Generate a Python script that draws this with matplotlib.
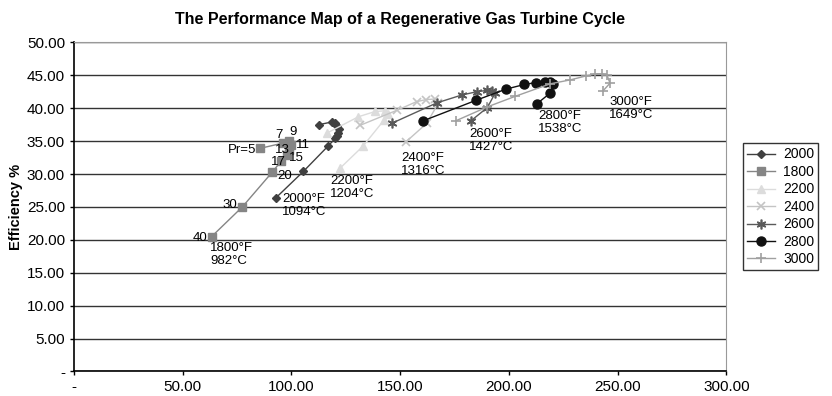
import matplotlib
matplotlib.use("Agg")
import matplotlib.pyplot as plt

plt.rcParams['font.family'] = ['Liberation Sans', 'DejaVu Sans']

# specific work (x) vs efficiency % (y), one list per turbine inlet temp
w1800 = [85.6, 96.1, 98.9, 99.8, 98.9, 98.0, 95.1, 91.2, 77.4, 63.3]
e1800 = [33.9, 34.7, 35.0, 34.4, 33.7, 32.9, 31.9, 30.3, 25.0, 20.5]

w2000 = [112.7, 118.5, 120.1, 121.1, 121.8, 121.6, 120.8, 120.1, 116.7, 105.5, 92.9]
e2000 = [37.5, 37.9, 37.7, 37.3, 36.8, 36.3, 35.8, 35.4, 34.2, 30.4, 26.4]

w2200 = [116.2, 130.8, 138.5, 143.0, 144.4, 142.6, 132.8, 122.4]
e2200 = [36.2, 38.7, 39.5, 39.6, 39.1, 38.2, 34.2, 30.9]

w2400 = [131.6, 148.6, 157.6, 161.9, 166.1, 167.6, 162.2, 152.7]
e2400 = [37.4, 39.7, 41.0, 41.3, 41.4, 40.8, 37.7, 34.9]

w2600 = [146.1, 166.8, 178.3, 185.2, 189.8, 192.1, 193.7, 190.1, 182.6]
e2600 = [37.7, 40.8, 42.0, 42.5, 42.7, 42.6, 42.3, 40.1, 38.1]

w2800 = [160.7, 184.9, 198.7, 207.1, 212.5, 216.7, 219.0, 220.2, 219.0, 212.8]
e2800 = [38.1, 41.2, 42.9, 43.6, 43.9, 44.0, 44.0, 43.7, 42.3, 40.65]

w3000 = [175.7, 190.1, 202.9, 219.0, 228.2, 235.5, 239.7, 242.7, 245.0, 246.5, 243.2]
e3000 = [38.1, 40.2, 41.8, 43.7, 44.3, 44.9, 45.2, 45.2, 45.1, 43.8, 42.6]

# pressure ratio labels on the 1800 curve
pr_labels = ["Pr=5", "7", "9", "11", "13", "15", "17", "20", "30", "40"]
pr_pos = [(83.7, 33.6), (94.3, 35.9), (100.7, 36.4), (102.1, 34.4), (92.6, 33.7),
          (99.0, 32.4), (90.6, 31.8), (93.4, 29.7), (75.0, 25.3), (61.2, 20.3)]
pr_ha = ["right", "center", "center", "left", "left", "left", "left", "left", "right", "right"]

temp_labels = ["1800°F\n982°C", "2000°F\n1094°C", "2200°F\n1204°C", "2400°F\n1316°C",
               "2600°F\n1427°C", "2800°F\n1538°C", "3000°F\n1649°C"]
temp_pos = [(62.6, 17.8), (95.7, 25.2), (117.8, 27.9), (150.4, 31.4),
            (181.7, 35.1), (213.4, 37.8), (246.1, 40.0)]

fig = plt.figure(figsize=(8.32, 3.96), dpi=100)
ax = fig.add_axes([0.089, 0.062, 0.784, 0.831])

ax.plot(w2000, e2000, color='#404040', marker='D', ms=4.5, lw=1, label='2000')
ax.plot(w1800, e1800, color='#858585', marker='s', ms=6, lw=1, label='1800')
ax.plot(w2200, e2200, color='#dcdcdc', marker='^', ms=6, lw=1, label='2200')
ax.plot(w2400, e2400, color='#c4c4c4', marker='x', ms=6, mew=1.2, lw=1, label='2400')
ax.plot(w2600, e2600, color='#5a5a5a', marker=(6, 2, 0), ms=7, mew=1.2, lw=1, label='2600')
ax.plot(w2800, e2800, color='#111111', marker='o', ms=6.5, lw=1, label='2800')
ax.plot(w3000, e3000, color='#a0a0a0', marker='+', ms=7, mew=1.2, lw=1, label='3000')

for t, (x, y), h in zip(pr_labels, pr_pos, pr_ha):
    ax.text(x, y, t, fontsize=9.5, ha=h, va='center')
for t, (x, y) in zip(temp_labels, temp_pos):
    ax.text(x, y, t, fontsize=9.5, ha='left', va='center', linespacing=1.1)

ax.set_xlim(0, 300)
ax.set_ylim(0, 50)
ax.set_xticks(range(0, 301, 50))
ax.set_xticklabels(['-'] + ['%.2f' % v for v in range(50, 301, 50)], fontsize=11)
ax.set_yticks(range(0, 51, 5))
ax.set_yticklabels(['-'] + ['%.2f' % v for v in range(5, 51, 5)], fontsize=11)
ax.yaxis.grid(True, color='#333333', lw=1)
ax.set_axisbelow(True)
ax.tick_params(direction='out', length=3, width=1, color='black')
ax.spines['top'].set_color('#999999')
ax.spines['right'].set_color('#999999')
ax.spines['left'].set_linewidth(1.2)
ax.spines['bottom'].set_linewidth(1.2)

ax.set_ylabel('Efficiency %', fontsize=10.5, fontweight='bold', labelpad=3)
ax.set_title('The Performance Map of a Regenerative Gas Turbine Cycle',
             fontsize=11.5, fontweight='bold', pad=13)

leg = ax.legend(loc='center left', bbox_to_anchor=(1.025, 0.5), fontsize=10,
                frameon=True, fancybox=False, edgecolor='black', borderpad=0.3,
                labelspacing=0.25, handlelength=2.0, handletextpad=0.6,
                borderaxespad=0)
leg.get_frame().set_linewidth(1)

fig.savefig('out.png', dpi=100)
